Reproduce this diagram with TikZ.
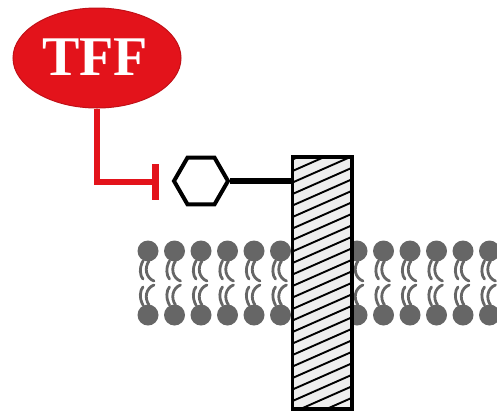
\documentclass[tikz,border=0pt]{standalone}
\usepackage{fontspec}
\setmainfont{Liberation Serif}
\usetikzlibrary{shapes.geometric,arrows.meta}
\definecolor{tffred}{HTML}{E3131B}
\definecolor{lipidgray}{HTML}{666666}
\definecolor{hatchfill}{HTML}{EEEEEE}
\begin{document}
\begin{tikzpicture}[x=1pt,y=-1pt,
  tffnode/.style={ellipse, fill=tffred, draw=tffred!85!black, line width=1pt,
    minimum width=168pt, minimum height=100pt, inner sep=0pt, text=white,
    font=\fontsize{56}{56}\selectfont\bfseries},
  inhibit/.style={draw=tffred, line width=6pt, -{Bar[width=36pt,line width=7pt]}},
  ligand/.style={regular polygon, regular polygon sides=6, draw=black,
    line width=4pt, minimum size=54pt, inner sep=0pt, fill=white},
  stem/.style={draw=black, line width=5.5pt},
  receptor/.style={rectangle, draw=black, line width=2.5pt, fill=hatchfill,
    minimum width=58pt, minimum height=251pt, inner sep=0pt},
  hatch/.style={draw=black, line width=1.9pt},
  tail/.style={draw=lipidgray, line width=2.8pt, line cap=round},
  lipid/.pic={
    \fill[lipidgray] (0,0) circle (10.5);
    \draw[tail] (-5,10) .. controls (-9,17) and (-8,25) .. (-5,28);
    \draw[tail] (1,10) .. controls (-4,17) and (-2,27) .. (6,30);
  }]
\useasboundingbox (0,0) rectangle (497,410);

% membrane bilayer: upper and lower leaflets
\foreach \x in {148,174.5,201,227.5,254,280.5,357,383.5,410,436.5,463,489.5} {
  \pic at (\x,251) {lipid};
  \pic[yscale=-1] at (\x,315) {lipid};
}

% transmembrane receptor with hatching
\node[receptor] (rect) at (322,283) {};
\begin{scope}
  \clip (rect.south west) rectangle (rect.north east);
  \foreach \y in {150,161.5,...,470} {
    \draw[hatch] (288,\y) -- (356,\y-30);
  }
\end{scope}
\draw[draw=black, line width=2.5pt] (rect.south west) rectangle (rect.north east);

% ligand bound to the receptor
\node[ligand] (hex) at (201,181) {};
\draw[stem] (hex.east) -- (hex.east -| rect.west);

% TFF blocking the ligand
\node[tffnode] (tff) at (97,58) {};
\node[text=white, font=\fontsize{56}{56}\selectfont\bfseries, inner sep=0pt]
  (tfflabel) at (95,57.5) {TFF};
\coordinate (block) at (159,182);
\draw[inhibit] (tff.south) |- (block);
\end{tikzpicture}
\end{document}
